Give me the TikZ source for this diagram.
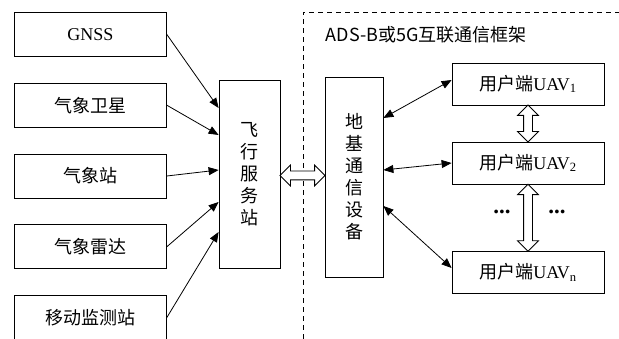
\documentclass[tikz,border=0pt]{standalone}
\usepackage{fontspec}
\setmainfont{Liberation Serif}
\newfontfamily\cjk{Noto Sans CJK SC}
\usetikzlibrary{shapes.arrows, arrows.meta, positioning}

\begin{document}
\begin{tikzpicture}[
                x=1pt, y=-1pt, line width=0.8pt,
                node distance=26pt,
                box/.style={rectangle, draw, text centered, minimum width=152pt, minimum height=44pt, inner sep=0pt, font=\fontsize{18}{21}\selectfont},
                vbox/.style={rectangle, draw, align=center, inner sep=0pt, font=\cjk\fontsize{18}{22}\selectfont},
                arrow/.style={-{Triangle[length=10pt,width=8pt]}, draw},
                biarrow/.style={{Triangle[length=10pt,width=8pt]}-{Triangle[length=10pt,width=8pt]}, draw},
                dblarrow/.style={double arrow, draw, fill=white, inner xsep=0pt, inner ysep=4pt, double arrow head extend=6pt}
            ]
                \useasboundingbox (0,0) rectangle (619,339);

                % frame of the link
                \draw [dashed, dash pattern=on 5pt off 4pt] (303,339) -- (303,12) -- (619,12);
                \node (title) [anchor=west, font=\cjk\fontsize{18}{20}\selectfont] at (322,35) {ADS-B或5G互联通信框架};

                \node (s1) [box, anchor=north west] at (14,12) {GNSS};
                \node (s2) [box, below=of s1] {{\cjk 气象卫星}};
                \node (s3) [box, below=of s2] {{\cjk 气象站}};
                \node (s4) [box, below=of s3] {{\cjk 气象雷达}};
                \node (s5) [box, below=of s4] {{\cjk 移动监测站}};

                \node (fss) [vbox, minimum width=61pt, minimum height=188pt] at (249.5,174) {飞\\行\\服\\务\\站};
                \node (gnd) [vbox, minimum width=58pt, minimum height=200pt] at (354,177) {地\\基\\通\\信\\设\\备};

                \node (u1) [box, minimum height=42pt] at (528,84) {{\cjk 用户端}UAV\textsubscript{1}};
                \node (u2) [box, minimum height=42pt] at (528,163) {{\cjk 用户端}UAV\textsubscript{2}};
                \node (un) [box, minimum height=42pt] at (528,272.5) {{\cjk 用户端}UAV\textsubscript{n}};

                \node (d1) [font=\bfseries\fontsize{23}{23}\selectfont] at (502,212) {...};
                \node (d2) [font=\bfseries\fontsize{23}{23}\selectfont] at (557,212) {...};

                \draw [arrow] (s1.east) -- ([yshift=66pt]fss.west);
                \draw [arrow] (s2.east) -- ([yshift=39pt]fss.west);
                \draw [arrow] (s3.east) -- ([yshift=4pt]fss.west);
                \draw [arrow] (s4.east) -- ([yshift=-28pt]fss.west);
                \draw [arrow] (s5.east) -- ([yshift=-58pt]fss.west);

                \draw [biarrow] ([yshift=59pt]gnd.east) -- ([yshift=4pt]u1.west);
                \draw [biarrow] ([yshift=7pt]gnd.east) -- (u2.west);
                \draw [biarrow] ([yshift=-29pt]gnd.east) -- ([yshift=4.5pt]un.west);

                \path (fss.east) -- node (link) [dblarrow, minimum height=45pt] {} (gnd.west);
                \path (u1.south) -- node (l12) [dblarrow, sloped, minimum height=37pt] {} (u2.north);
                \path (u2.south) -- node (l2n) [dblarrow, sloped, minimum height=67pt] {} (un.north);
            \end{tikzpicture}
\end{document}
